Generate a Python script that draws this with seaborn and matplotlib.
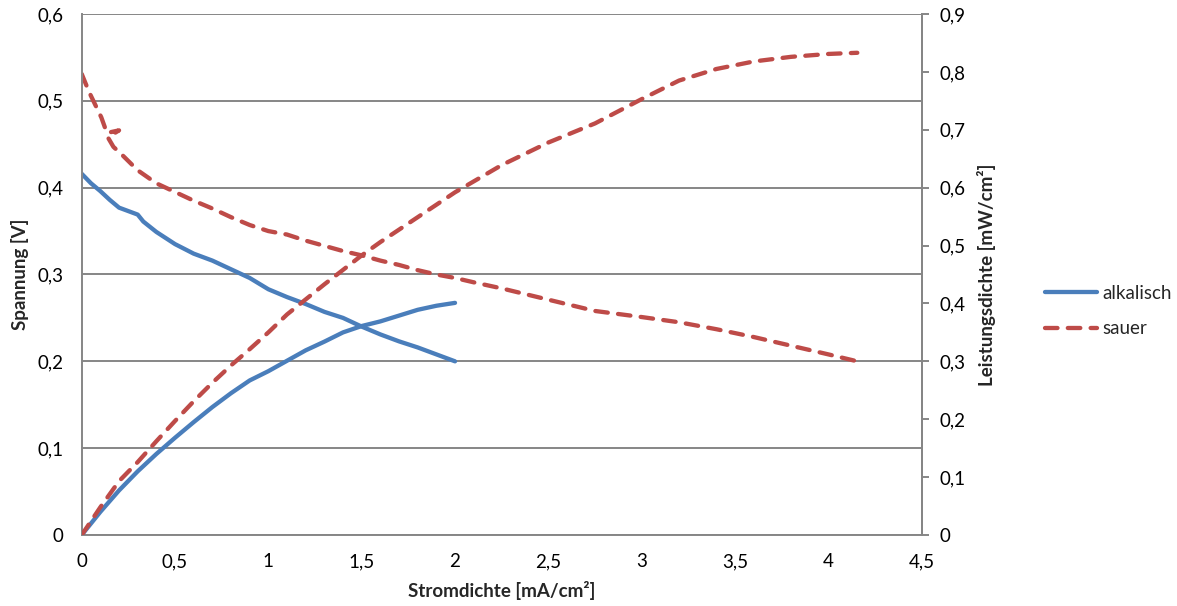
import matplotlib
matplotlib.use("Agg")
import matplotlib.pyplot as plt
import seaborn as sns
import pandas as pd
from matplotlib.ticker import FuncFormatter, MultipleLocator
from matplotlib.lines import Line2D

# ---- data ----
alk_v_x = [0, 0.05, 0.10, 0.15, 0.20, 0.25, 0.30, 0.33, 0.40, 0.50, 0.60, 0.70, 0.80,
           0.90, 1.00, 1.10, 1.20, 1.30, 1.40, 1.50, 1.60, 1.70, 1.80, 1.90, 2.00]
alk_v_y = [0.416, 0.405, 0.396, 0.386, 0.377, 0.373, 0.369, 0.361, 0.349, 0.335, 0.324,
           0.316, 0.306, 0.296, 0.283, 0.274, 0.266, 0.257, 0.250, 0.240, 0.231, 0.223,
           0.216, 0.208, 0.200]

alk_p_x = [0, 0.1, 0.2, 0.3, 0.4, 0.5, 0.6, 0.7, 0.8, 0.9, 1.0, 1.1, 1.2, 1.3, 1.4,
           1.5, 1.6, 1.7, 1.8, 1.9, 2.0]
alk_p_y = [0, 0.040, 0.077, 0.110, 0.140, 0.168, 0.195, 0.221, 0.245, 0.267, 0.283,
           0.301, 0.319, 0.334, 0.350, 0.361, 0.369, 0.379, 0.389, 0.396, 0.401]

sau_v_x = [0, 0.04, 0.105, 0.135, 0.20, 0.14, 0.17, 0.22, 0.30, 0.40, 0.50, 0.60, 0.70,
           0.80, 0.90, 1.00, 1.10, 1.20, 1.30, 1.40, 1.50, 1.60, 1.70, 1.80, 1.90, 2.00,
           2.10, 2.25, 2.50, 2.75, 3.00, 3.20, 3.40, 3.60, 3.80, 4.00, 4.155]
sau_v_y = [0.531, 0.510, 0.481, 0.463, 0.466, 0.458, 0.447, 0.437, 0.420, 0.405, 0.395,
           0.385, 0.376, 0.366, 0.357, 0.350, 0.346, 0.339, 0.333, 0.327, 0.322, 0.316,
           0.311, 0.305, 0.300, 0.296, 0.291, 0.284, 0.271, 0.258, 0.251, 0.245, 0.237,
           0.228, 0.218, 0.208, 0.200]

sau_p_x = [0, 0.1, 0.2, 0.3, 0.4, 0.5, 0.6, 0.7, 0.8, 0.9, 1.0, 1.1, 1.2, 1.3, 1.4,
           1.5, 1.6, 1.8, 2.0, 2.25, 2.5, 2.75, 3.0, 3.2, 3.4, 3.6, 3.8, 4.0, 4.155]
sau_p_y = [0, 0.048, 0.093, 0.126, 0.162, 0.197, 0.231, 0.263, 0.293, 0.321, 0.350,
           0.381, 0.407, 0.433, 0.458, 0.483, 0.506, 0.549, 0.592, 0.639, 0.678, 0.711,
           0.753, 0.785, 0.805, 0.818, 0.826, 0.831, 0.833]

series_names = ["alkalisch", "sauer"]
x_label = "Stromdichte [mA/cm²]"
y_label = "Spannung [V]"
y2_label = "Leistungsdichte [mW/cm²]"

BLUE = "#4A7EBB"
RED = "#BE4B48"
GRID = "#868686"

sns.set_theme(style="white")
plt.rcParams["font.family"] = ["Lato", "DejaVu Sans"]

fig = plt.figure(figsize=(11.77, 6.06), dpi=100)
ax = fig.add_axes([81.7 / 1177, 1 - 535 / 606, (921.7 - 81.7) / 1177, (535 - 14) / 606])
ax2 = ax.twinx()

lw = 3.1
dash = (2.9, 2.4)

sns.lineplot(x=alk_v_x, y=alk_v_y, ax=ax, color=BLUE, lw=lw, sort=False,
             estimator=None, solid_capstyle="round")
sns.lineplot(x=sau_v_x, y=sau_v_y, ax=ax, color=RED, lw=lw, sort=False,
             estimator=None)
ax.lines[-1].set_dashes(dash)
ax.lines[-1].set_dash_capstyle("round")

sns.lineplot(x=alk_p_x, y=alk_p_y, ax=ax2, color=BLUE, lw=lw, sort=False,
             estimator=None, solid_capstyle="round")
sns.lineplot(x=sau_p_x, y=sau_p_y, ax=ax2, color=RED, lw=lw, sort=False,
             estimator=None)
ax2.lines[-1].set_dashes(dash)
ax2.lines[-1].set_dash_capstyle("round")

fmt = FuncFormatter(lambda v, p: ("%g" % round(v, 3)).replace(".", ","))

ax.set_xlim(0, 4.5)
ax.set_ylim(0, 0.6)
ax2.set_ylim(0, 0.9)
ax.xaxis.set_major_locator(MultipleLocator(0.5))
ax.yaxis.set_major_locator(MultipleLocator(0.1))
ax2.yaxis.set_major_locator(MultipleLocator(0.1))
ax.xaxis.set_major_formatter(fmt)
ax.yaxis.set_major_formatter(fmt)
ax2.yaxis.set_major_formatter(fmt)

ax.grid(axis="y", color=GRID, lw=1.4)
ax.grid(axis="x", visible=False)
ax2.grid(False)
ax.set_axisbelow(True)

for a in (ax, ax2):
    for s in a.spines.values():
        s.set_color(GRID)
        s.set_linewidth(1.4)
    a.spines["top"].set_visible(False)
ax2.spines["left"].set_visible(False)
ax2.spines["bottom"].set_visible(False)

fs = 13.5
ax.tick_params(axis="y", length=0, pad=13, labelsize=fs, labelcolor="black")
ax.tick_params(axis="x", length=0, pad=13, labelsize=fs, labelcolor="black")
ax2.tick_params(axis="y", length=5, width=1.4, color=GRID, pad=8, labelsize=fs,
                labelcolor="black")

ax.set_xlabel(x_label, fontsize=fs, fontweight="bold", labelpad=8)
ax.set_ylabel(y_label, fontsize=fs, fontweight="bold", labelpad=6)
ax2.set_ylabel(y2_label, fontsize=fs, fontweight="bold", labelpad=8)

handles = [Line2D([], [], color=BLUE, lw=lw),
           Line2D([], [], color=RED, lw=lw, dashes=dash, dash_capstyle="round")]
fig.legend(handles, series_names, loc="center left",
           bbox_to_anchor=(1028 / 1177, 1 - 311 / 606), frameon=False,
           fontsize=fs, handlelength=2.8, handletextpad=0.25, labelspacing=1.0)

fig.savefig("out.png", dpi=100)
